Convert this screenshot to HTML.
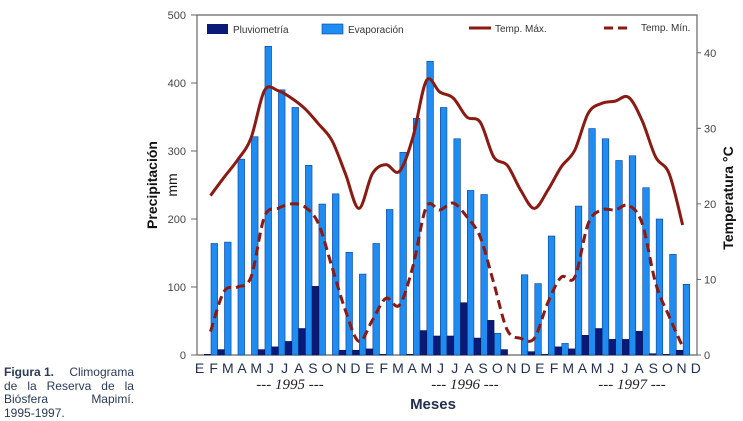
<!DOCTYPE html>
<html><head><meta charset="utf-8">
<style>
html,body{margin:0;padding:0;background:#fff;}
body{width:743px;height:421px;overflow:hidden;position:relative;font-family:"Liberation Sans","DejaVu Sans",sans-serif;}
#cap{position:absolute;left:4px;top:366px;width:130px;font-size:12px;line-height:13.5px;color:#2a3a5a;}
#cap div{display:flex;justify-content:space-between;white-space:nowrap;}
#cap div.last{justify-content:flex-start;}
</style></head><body>
<svg id="chart" width="743" height="421" style="position:absolute;left:0;top:0" font-family="Liberation Sans, DejaVu Sans, sans-serif"></svg>
<div id="cap">
<div><b>Figura 1.</b><span>Climograma</span></div>
<div><span>de</span><span>la</span><span>Reserva</span><span>de</span><span>la</span></div>
<div><span>Biósfera</span><span>Mapimí.</span></div>
<div class="last"><span>1995-1997.</span></div>
</div>
<script>
const months = ["E","F","M","A","M","J","J","A","S","O","N","D","E","F","M","A","M","J","J","A","S","O","N","D","E","F","M","A","M","J","J","A","S","O","N","D"];
const evaporacion = [164,166,288,321,454,390,364,279,222,237,151,119,164,214,298,348,432,364,318,242,236,32,0,118,105,175,17,219,333,318,286,293,246,200,148,104];
const pluviometria = [1,8,0,0,8,12,20,39,101,0,7,7,9,1,0,1,36,28,28,77,25,51,8,0,5,1,12,9,29,39,23,23,35,2,1,7];
const tempMax = [21.1,23.5,25.8,28.7,35.0,35.0,34.0,32.6,30.6,28.4,24.0,19.4,24.0,25.2,24.3,28.8,36.3,34.8,34.0,31.5,30.8,26.2,25.1,21.8,19.4,21.8,24.9,27.1,32.0,33.3,33.6,34.1,31.0,26.2,24.0,17.2];
const tempMin = [3.1,8.4,9.0,10.3,18.3,19.4,20.0,19.6,17.4,11.7,5.9,1.8,4.6,7.5,6.6,11.7,19.6,19.2,20.1,18.3,15.6,9.5,3.3,2.2,2.2,6.9,10.3,10.3,17.4,19.2,19.2,19.8,17.4,9.5,5.1,1.1];
const leftTicks = [0,100,200,300,400,500];
const rightTicks = [0,10,20,30,40];
const years = ["1995","1996","1997"];

const svg = document.getElementById('chart');
const NS = 'http://www.w3.org/2000/svg';
function mk(tag, attrs, parent){const e=document.createElementNS(NS,tag);for(const k in attrs)e.setAttribute(k,attrs[k]);(parent||svg).appendChild(e);return e;}
const X0=197,X1=697,Y0=355,Y1=15;
const yL = v => Y0 - v*(Y0-Y1)/500;
const yR = v => Y0 - v*(Y0-Y1)/45;
const xBlue = i => 211 + 13.49*i;
const xLine = i => 210.5 + 13.49*i;
const xLabel = i => 199.5 + 14.18*i;

let f = mk('path',{d:`M${X0},${Y0} L${X0},${Y1} L${X1},${Y1} L${X1},${Y0} L${X0},${Y0}`,fill:'none',stroke:'#666','stroke-width':1.2});



leftTicks.forEach(t=>{
  const y=yL(t);
  const l=mk('line',{x1:X0-6,x2:X0,y1:y,y2:y,stroke:'#666'});
  
  
  const tx=mk('text',{x:186,y:y+4,'text-anchor':'end','font-size':11,fill:'#444'});
  tx.textContent=t;
  
  
});
rightTicks.forEach(t=>{
  const y=yR(t);
  const l=mk('line',{x1:X1,x2:X1+4,y1:y,y2:y,stroke:'#666'});
  
  
  const tx=mk('text',{x:704,y:y+4,'font-size':11,fill:'#444'});
  tx.textContent=t;
  
  
});

evaporacion.forEach((v,i)=>{
  if(v<=0) return;
  const r=mk('rect',{x:xBlue(i),y:yL(v),width:6.6,height:Y0-yL(v),fill:'#1e8cf0',stroke:'#0b3f9a','stroke-width':0.6});
  
  
});
pluviometria.forEach((v,i)=>{
  if(v<=0) return;
  const r=mk('rect',{x:xBlue(i)-6.8,y:yL(v),width:6.6,height:Y0-yL(v),fill:'#0a1a78',stroke:'#06104a','stroke-width':0.5});
  
  
});

function smooth(vals){
  const p=vals.map((v,i)=>[xLine(i),yR(v)]);
  let d=`M${p[0][0]},${p[0][1]}`;
  for(let i=0;i<p.length-1;i++){
    const p0=p[Math.max(0,i-1)],p1=p[i],p2=p[i+1],p3=p[Math.min(p.length-1,i+2)];
    const c1=[p1[0]+(p2[0]-p0[0])/6,p1[1]+(p2[1]-p0[1])/6];
    const c2=[p2[0]-(p3[0]-p1[0])/6,p2[1]-(p3[1]-p1[1])/6];
    d+=` C${c1[0]},${c1[1]} ${c2[0]},${c2[1]} ${p2[0]},${p2[1]}`;
  }
  return d;
}
const lmax=mk('path',{d:smooth(tempMax),fill:'none',stroke:'#8b1a12','stroke-width':3});


const lmin=mk('path',{d:smooth(tempMin),fill:'none',stroke:'#8b1a12','stroke-width':3,'stroke-dasharray':'9,5'});



const lg=mk('g',{});


mk('rect',{x:207,y:24,width:21,height:10,fill:'#0a1a78'},lg);
let t1=mk('text',{x:233,y:33,'font-size':10,fill:'#333'},lg);t1.textContent='Pluviometría';


mk('rect',{x:322,y:24,width:21,height:10,fill:'#1e8cf0',stroke:'#0b3f9a','stroke-width':0.6},lg);
let t2=mk('text',{x:348,y:33,'font-size':10,fill:'#333'},lg);t2.textContent='Evaporación';


mk('line',{x1:469,x2:491,y1:28,y2:28,stroke:'#8b1a12','stroke-width':3},lg);
let t3=mk('text',{x:495,y:32,'font-size':10,fill:'#333'},lg);t3.textContent='Temp. Máx.';


mk('line',{x1:604,x2:630,y1:28,y2:28,stroke:'#8b1a12','stroke-width':3,'stroke-dasharray':'9,5'},lg);
let t4=mk('text',{x:641,y:31,'font-size':10,fill:'#333'},lg);t4.textContent='Temp. Mín.';



months.forEach((m,i)=>{
  const t=mk('text',{x:xLabel(i),y:373,'text-anchor':'middle','font-size':14,fill:'#23304f'});
  t.textContent=m;
  
  
});
const yearX=[290,465,632];
years.forEach((y,i)=>{
  const t=mk('text',{x:yearX[i],y:389,'text-anchor':'middle','font-size':15,'font-family':'Liberation Serif, serif','font-style':'italic',fill:'#222'});
  t.textContent='--- '+y+' ---';
  
  
});
const xt=mk('text',{x:433,y:409,'text-anchor':'middle','font-size':15,'font-weight':'bold',fill:'#23304f'});
xt.textContent='Meses';


const yt=mk('text',{x:0,y:0,'text-anchor':'middle','font-size':14,'font-weight':'bold',fill:'#111',transform:'translate(157,185) rotate(-90)'});
yt.textContent='Precipitación';


const yt2=mk('text',{x:0,y:0,'text-anchor':'middle','font-size':14,fill:'#111',transform:'translate(177,185) rotate(-90)'});
yt2.textContent='mm';


const yt3=mk('text',{x:0,y:0,'text-anchor':'middle','font-size':14,'font-weight':'bold',fill:'#111',transform:'translate(733,198) rotate(-90)'});
yt3.textContent='Temperatura °C';


</script>
</body></html>
